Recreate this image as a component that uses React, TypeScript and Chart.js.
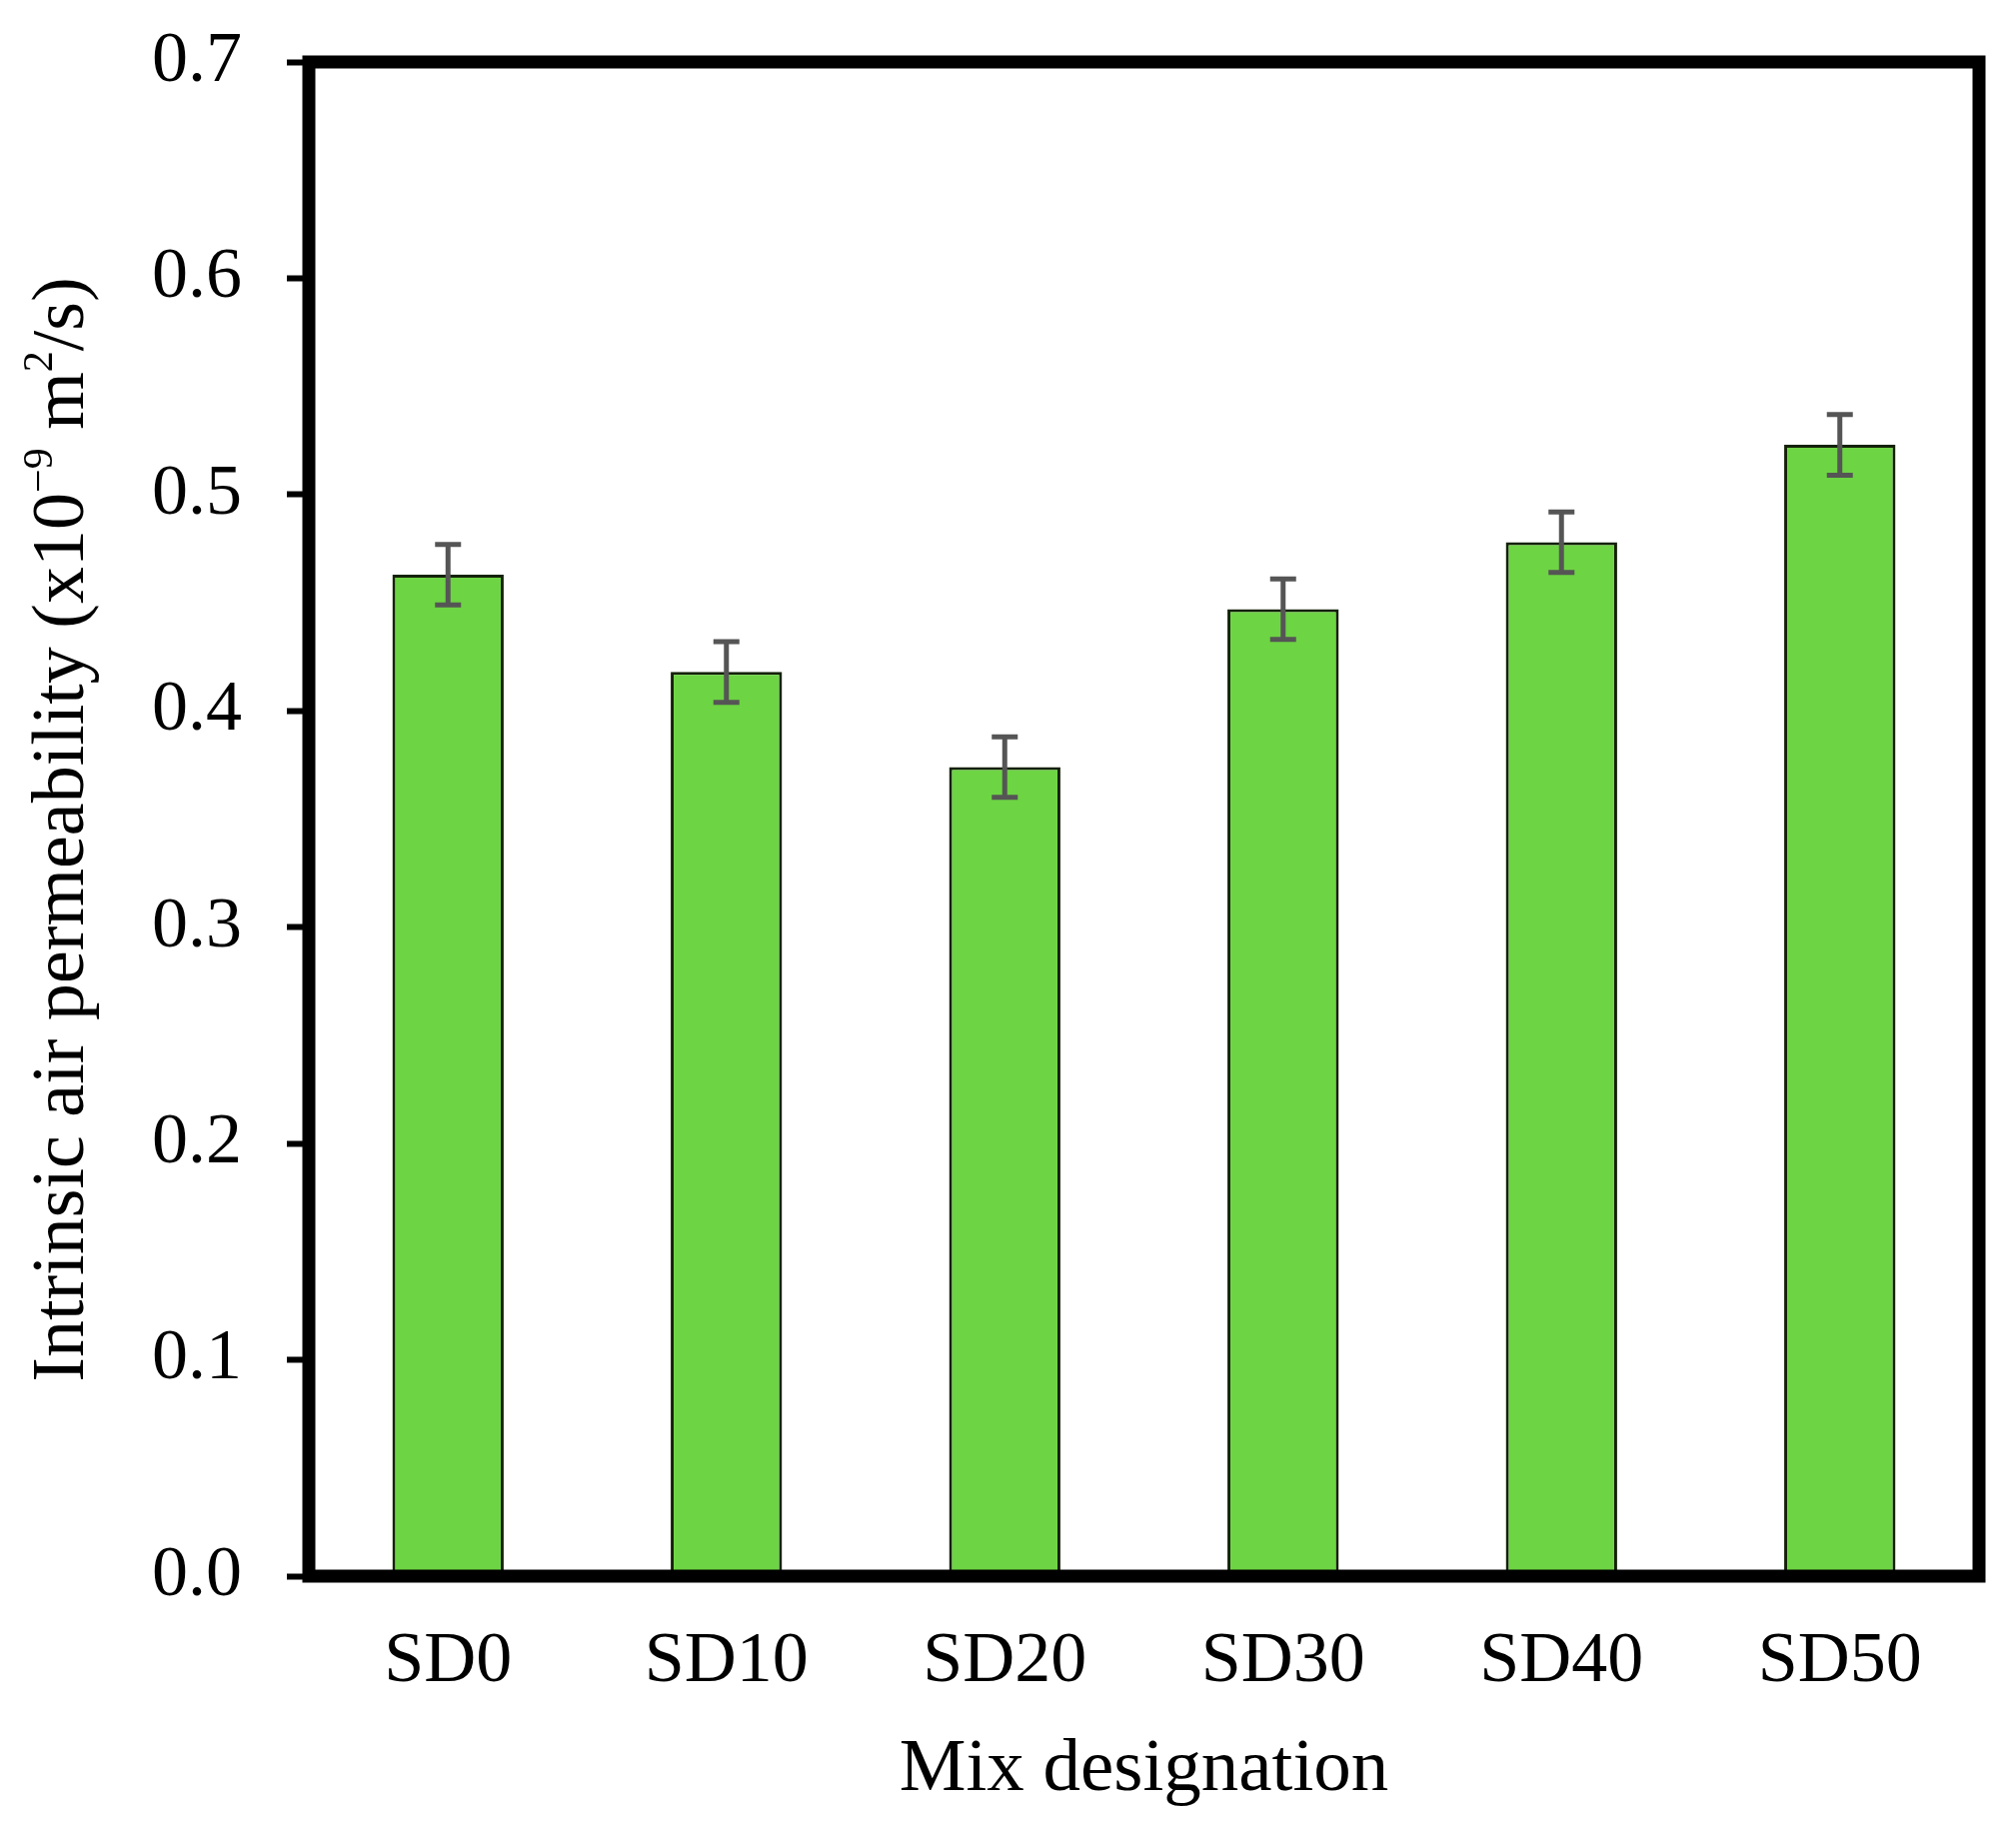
import { useEffect, useRef } from 'react';
import { Chart, registerables } from 'chart.js';

Chart.register(...registerables);

// values
const mixes = ['SD0', 'SD10', 'SD20', 'SD30', 'SD40', 'SD50'];
const permeability = [0.463, 0.418, 0.374, 0.447, 0.478, 0.523];
const errors = [0.014, 0.014, 0.014, 0.014, 0.014, 0.014];
const yTicks = [0, 0.1, 0.2, 0.3, 0.4, 0.5, 0.6, 0.7];

const FONT = "'Liberation Serif', 'Times New Roman', serif";

// y title has superscripts, so it is drawn in runs
const yTitleRuns: { text: string; sup?: boolean }[] = [
  { text: 'Intrinsic air permeability (x10' },
  { text: '\u22129', sup: true },
  { text: ' m' },
  { text: '2', sup: true },
  { text: '/s)' },
];

const errorBars = {
  id: 'errorBars',
  afterDatasetsDraw(chart: any) {
    const { ctx } = chart;
    const y = chart.scales.y;
    const meta = chart.getDatasetMeta(0);
    ctx.save();
    ctx.strokeStyle = '#555555';
    ctx.lineWidth = 5;
    meta.data.forEach((bar: any, i: number) => {
      const v = permeability[i];
      const top = y.getPixelForValue(v + errors[i]);
      const bottom = y.getPixelForValue(v - errors[i]);
      const cap = 13;
      ctx.beginPath();
      ctx.moveTo(bar.x, top);
      ctx.lineTo(bar.x, bottom);
      ctx.moveTo(bar.x - cap, top);
      ctx.lineTo(bar.x + cap, top);
      ctx.moveTo(bar.x - cap, bottom);
      ctx.lineTo(bar.x + cap, bottom);
      ctx.stroke();
    });
    ctx.restore();
  },
};

const frame = {
  id: 'frame',
  afterDraw(chart: any) {
    const { ctx, chartArea: a } = chart;
    ctx.save();
    ctx.strokeStyle = '#000';
    ctx.lineWidth = 13;
    ctx.strokeRect(a.left, a.top, a.right - a.left, a.bottom - a.top);
    ctx.restore();
  },
};

const yTitle = {
  id: 'yTitle',
  afterDraw(chart: any) {
    const { ctx } = chart;
    const size = 74;
    const supSize = 42;
    const normal = `${size}px ${FONT}`;
    const small = `${supSize}px ${FONT}`;
    ctx.save();
    let total = 0;
    const widths = yTitleRuns.map(r => {
      ctx.font = r.sup ? small : normal;
      const w = ctx.measureText(r.text).width;
      total += w;
      return w;
    });
    ctx.translate(83, 830);
    ctx.rotate(-Math.PI / 2);
    ctx.fillStyle = '#000';
    ctx.textBaseline = 'alphabetic';
    ctx.textAlign = 'left';
    let x = -total / 2;
    yTitleRuns.forEach((r, i) => {
      ctx.font = r.sup ? small : normal;
      ctx.fillText(r.text, x, r.sup ? -31 : 0);
      x += widths[i];
    });
    ctx.restore();
  },
};

export default function App() {
  const canvasRef = useRef<HTMLCanvasElement>(null);
  const chartRef = useRef<any>(null);

  useEffect(() => {
    document.body.style.margin = '0';
    if (!canvasRef.current) return;
    if (chartRef.current) chartRef.current.destroy();

    chartRef.current = new Chart(canvasRef.current, {
      type: 'bar',
      data: {
        labels: mixes,
        datasets: [{
          data: permeability,
          backgroundColor: '#6dd443',
          borderColor: '#142208',
          borderWidth: 3,
          barPercentage: 0.4,
          categoryPercentage: 1,
        }],
      },
      options: {
        animation: false,
        responsive: true,
        maintainAspectRatio: false,
        layout: { padding: { top: 62, right: 37, left: 0, bottom: 0 } },
        plugins: {
          legend: { display: false },
          tooltip: { enabled: false },
        },
        scales: {
          x: {
            grid: { display: false, drawTicks: false },
            border: { display: false },
            ticks: {
              color: '#000',
              padding: 43,
              font: { family: FONT, size: 72, lineHeight: 1.2 },
            },
            title: {
              display: true,
              text: 'Mix designation',
              color: '#000',
              padding: { top: 0, bottom: 22 },
              font: { family: FONT, size: 75, lineHeight: 1.2 },
            },
            afterFit(scale: any) {
              scale.height = 261;
            },
          },
          y: {
            min: 0,
            max: 0.7,
            afterBuildTicks(scale: any) {
              scale.ticks = yTicks.map(v => ({ value: v }));
            },
            grid: {
              display: true,
              drawOnChartArea: false,
              drawTicks: true,
              tickLength: 22,
              tickWidth: 6,
              tickColor: '#000',
            },
            border: { display: false },
            ticks: {
              color: '#000',
              padding: 45,
              font: { family: FONT, size: 72, lineHeight: 1.2 },
              callback: (v: any) => Number(v).toFixed(1),
            },
            afterFit(scale: any) {
              scale.width = 309;
              scale.paddingTop = 0;
              scale.paddingBottom = 0;
            },
          },
        },
      },
      plugins: [errorBars, frame, yTitle],
    });

    return () => {
      if (chartRef.current) {
        chartRef.current.destroy();
        chartRef.current = null;
      }
    };
  }, []);

  return (
    <div style={{ position: 'relative', width: 2017, height: 1838, background: '#fff' }}>
      <canvas ref={canvasRef}></canvas>
    </div>
  );
}
